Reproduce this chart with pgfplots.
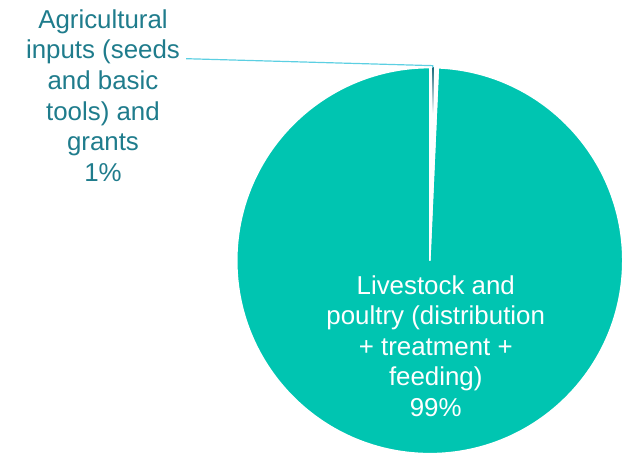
\documentclass[border=0pt]{standalone}
\usepackage{pgfplots}
\pgfplotsset{compat=1.18}
\usepackage{fontspec}
\setmainfont{Liberation Sans}

\definecolor{mainteal}{HTML}{00C5B1}
\definecolor{darkteal}{HTML}{1B6C7C}
\definecolor{labteal}{HTML}{1F7C8C}
\definecolor{leader}{HTML}{5CCFE2}

% slice values (percent), first slice starts at 12 o'clock, clockwise
\def\valAgri{0.7}
\def\valLive{99.3}

\begin{document}
\begin{tikzpicture}
\begin{axis}[
    scale only axis,
    width=628bp, height=456bp,
    xmin=0, xmax=628, ymin=0, ymax=456,
    hide axis,
    clip=false,
]
\path (axis cs:0,0) rectangle (axis cs:628,456);

\pgfmathsetmacro{\aEnd}{90-3.6*\valAgri}
\pgfmathsetmacro{\bEnd}{\aEnd-3.6*\valLive}

% livestock slice
\fill[mainteal, draw=white, line width=1.5bp]
    (axis cs:432,194) -- ++(\aEnd:194bp) arc[start angle=\aEnd, end angle=\bEnd, radius=194bp] -- cycle;
% agricultural slice
\fill[white, draw=white, line width=1.5bp]
    (axis cs:432,194) -- ++(90:194bp) arc[start angle=90, end angle=\aEnd, radius=194bp] -- cycle;
\shade[top color=darkteal, bottom color=white]
    (axis cs:434.6,388) rectangle (axis cs:436,342);

% leader line
\draw[leader, line width=1.2bp] (axis cs:187,397) -- (axis cs:435,390) -- (axis cs:435,388);

% labels
\node[anchor=north, align=center, inner sep=0pt, text=labteal,
      font=\fontsize{26bp}{30.75bp}\selectfont]
    at (axis cs:103.5,446.5) {Agricultural\\inputs (seeds\\and basic\\tools) and\\grants\\1\%};
\node[anchor=north, align=center, inner sep=0pt, text=white,
      font=\fontsize{26bp}{30.75bp}\selectfont]
    at (axis cs:438,179.5) {Livestock and\\poultry (distribution\\+ treatment +\\feeding)\\99\%};
\end{axis}
\end{tikzpicture}
\end{document}
